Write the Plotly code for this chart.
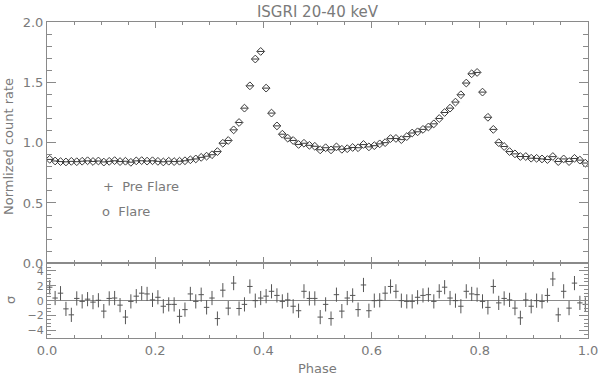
import plotly.graph_objects as go

# Phase bin centres
phase = [
    0.005, 0.015, 0.025, 0.035, 0.045, 0.055, 0.065, 0.075, 0.085, 0.095,
    0.105, 0.115, 0.125, 0.135, 0.145, 0.155, 0.165, 0.175, 0.185, 0.195,
    0.205, 0.215, 0.225, 0.235, 0.245, 0.255, 0.265, 0.275, 0.285, 0.295,
    0.305, 0.315, 0.325, 0.335, 0.345, 0.355, 0.365, 0.375, 0.385, 0.395,
    0.405, 0.415, 0.425, 0.435, 0.445, 0.455, 0.465, 0.475, 0.485, 0.495,
    0.505, 0.515, 0.525, 0.535, 0.545, 0.555, 0.565, 0.575, 0.585, 0.595,
    0.605, 0.615, 0.625, 0.635, 0.645, 0.655, 0.665, 0.675, 0.685, 0.695,
    0.705, 0.715, 0.725, 0.735, 0.745, 0.755, 0.765, 0.775, 0.785, 0.795,
    0.805, 0.815, 0.825, 0.835, 0.845, 0.855, 0.865, 0.875, 0.885, 0.895,
    0.905, 0.915, 0.925, 0.935, 0.945, 0.955, 0.965, 0.975, 0.985, 0.995,
]

# Normalized count rate, flare
flare = [
    0.862, 0.848, 0.843, 0.840, 0.845, 0.842, 0.846, 0.850, 0.844, 0.848,
    0.839, 0.845, 0.851, 0.843, 0.846, 0.837, 0.849, 0.851, 0.847, 0.850,
    0.845, 0.840, 0.846, 0.843, 0.846, 0.850, 0.858, 0.865, 0.878, 0.888,
    0.900, 0.926, 0.995, 1.018, 1.106, 1.167, 1.286, 1.471, 1.693, 1.756,
    1.452, 1.245, 1.139, 1.070, 1.037, 1.018, 0.985, 0.995, 0.978, 0.970,
    0.940, 0.958, 0.940, 0.965, 0.945, 0.950, 0.960, 0.958, 0.985, 0.965,
    0.975, 0.990, 1.000, 1.034, 1.035, 1.025, 1.050, 1.080, 1.090, 1.110,
    1.130, 1.156, 1.200, 1.250, 1.286, 1.336, 1.397, 1.494, 1.571, 1.582,
    1.419, 1.210, 1.110, 1.000, 0.968, 0.926, 0.907, 0.885, 0.885, 0.871,
    0.870, 0.865, 0.860, 0.885, 0.843, 0.865, 0.843, 0.870, 0.855, 0.830,
]

# Normalized count rate, pre flare (overlaps the flare profile)
pre_flare = [
    0.861, 0.848, 0.843, 0.841, 0.845, 0.842, 0.846, 0.849, 0.844, 0.848,
    0.840, 0.845, 0.850, 0.843, 0.846, 0.838, 0.849, 0.850, 0.847, 0.850,
    0.845, 0.841, 0.846, 0.843, 0.846, 0.850, 0.858, 0.865, 0.878, 0.888,
    0.900, 0.926, 0.995, 1.018, 1.106, 1.167, 1.286, 1.471, 1.693, 1.756,
    1.452, 1.245, 1.139, 1.070, 1.037, 1.018, 0.985, 0.995, 0.978, 0.970,
    0.941, 0.958, 0.941, 0.965, 0.945, 0.950, 0.960, 0.958, 0.984, 0.965,
    0.975, 0.990, 1.000, 1.033, 1.035, 1.025, 1.050, 1.080, 1.090, 1.110,
    1.130, 1.156, 1.200, 1.250, 1.286, 1.336, 1.397, 1.494, 1.571, 1.582,
    1.419, 1.210, 1.110, 1.000, 0.968, 0.926, 0.907, 0.885, 0.885, 0.871,
    0.870, 0.865, 0.860, 0.884, 0.844, 0.865, 0.844, 0.869, 0.855, 0.831,
]

# Residuals in sigma
resid = [
    1.8, 0.35, 1.0, -1.1, -1.9, 0.3, -0.1, 0.2, -0.2, 0.05,
    -1.4, 0.3, 0.35, -0.6, -2.2, -0.1, 0.6, 1.0, 0.9, 0.1,
    0.45, -0.75, -0.5, -0.5, -2.1, -1.2, 0.9, -0.1, 0.8, -0.9,
    0.35, -2.4, 1.4, -1.0, 2.35, -1.05, -0.5, 1.9, 0.0, 0.35,
    0.6, 1.25, 0.7, -0.1, 0.1, -0.75, -1.35, 1.25, 0.3, 0.3,
    -2.2, -0.5, -2.4, 0.8, -1.4, 0.35, 0.7, -1.2, 2.1, -1.35,
    0.0, 0.05, 1.0, 1.9, 1.25, 0.0, -0.1, -0.1, 0.45, 0.7,
    0.8, -0.1, 1.25, 1.8, 0.35, 0.0, -0.75, 1.25, 0.9, 0.8,
    -0.1, -0.9, 1.9, -0.3, 0.3, 0.1, -1.0, -2.3, 0.1, -0.75,
    0.0, -0.1, 0.7, 2.9, -1.9, 1.25, -1.0, 2.35, -0.3, -0.5,
]

title_text = "ISGRI 20-40 keV"
ytitle_top = "Normlized count rate"
ytitle_bottom = "σ"
xtitle = "Phase"
legend_labels = ["+  Pre Flare", "o  Flare"]

AX = "#8a8a8a"
TXT = "#7a7a7a"
MK = "#3a3a3a"
FONT = "DejaVu Sans"

W, H = 600, 375
L, R, T, B = 47, 12, 22, 37
ph = H - T - B
split = (338 - 263.3) / ph

fig = go.Figure()

fig.add_trace(go.Scatter(
    x=phase, y=flare, mode="markers", name="Flare",
    xaxis="x2", yaxis="y2",
    marker=dict(symbol="diamond-open", size=6, color=MK, line=dict(width=1, color=MK)),
    showlegend=False,
))
fig.add_trace(go.Scatter(
    x=phase, y=pre_flare, mode="markers", name="Pre Flare",
    xaxis="x2", yaxis="y2",
    marker=dict(symbol="line-ew-open", size=5, color=MK, line=dict(width=1, color=MK)),
    showlegend=False,
))
fig.add_trace(go.Scatter(
    x=phase, y=resid, mode="markers", name="residuals",
    xaxis="x", yaxis="y",
    marker=dict(size=2, color="rgba(0,0,0,0)"),
    error_x=dict(type="constant", value=0.005, width=0, thickness=1, color="#555"),
    error_y=dict(type="constant", value=0.95, width=0, thickness=1, color="#555"),
    showlegend=False,
))

common_x = dict(
    range=[0, 1], showgrid=False, zeroline=False, showline=True, linecolor=AX, linewidth=1,
    mirror="allticks", ticks="inside", ticklen=6, tickcolor=AX, dtick=0.2, tick0=0,
    minor=dict(dtick=0.05, ticks="inside", ticklen=3, tickcolor=AX), automargin=False,
)

fig.update_layout(
    width=W, height=H,
    margin=dict(l=L, r=R, t=T, b=B),
    paper_bgcolor="white", plot_bgcolor="white",
    font=dict(family=FONT, size=13, color=TXT),
    title=dict(text=title_text, x=(L + (W - L - R) / 2) / W, xanchor="center",
               y=1 - 12 / H, yanchor="middle", font=dict(size=15, color=TXT)),
    xaxis=dict(**common_x, domain=[0, 1], anchor="y", tickformat=".1f",
               tickfont=dict(size=13, color=TXT)),
    xaxis2=dict(**common_x, domain=[0, 1], anchor="y2", matches="x", showticklabels=False),
    yaxis=dict(domain=[0, split], anchor="x", range=[-5, 5], showgrid=False,
               zeroline=True, zerolinecolor=AX, zerolinewidth=1,
               showline=True, linecolor=AX, mirror="allticks", ticks="inside",
               ticklen=9, tickcolor=AX, tickvals=[-4, -2, 0, 2, 4],
               minor=dict(dtick=0.5, ticks="inside", ticklen=4, tickcolor=AX),
               tickfont=dict(size=11, color=TXT), automargin=False),
    yaxis2=dict(domain=[split, 1], anchor="x2", range=[0, 2], showgrid=False,
                zeroline=False, showline=True, linecolor=AX, mirror="allticks",
                ticks="inside", ticklen=9, tickcolor=AX, dtick=0.5, tick0=0,
                tickformat=".1f",
                minor=dict(dtick=0.1, ticks="inside", ticklen=5, tickcolor=AX),
                tickfont=dict(size=13, color=TXT), automargin=False),
)

annotations = [
    dict(text=ytitle_top, xref="paper", yref="paper", x=(8 - L) / (W - L - R),
         y=(338 - 147) / ph, textangle=-90, showarrow=False,
         font=dict(size=13, color=TXT), xanchor="center", yanchor="middle"),
    dict(text=ytitle_bottom, xref="paper", yref="paper", x=(10 - L) / (W - L - R),
         y=(338 - 300) / ph, textangle=-90, showarrow=False,
         font=dict(size=13, color=TXT), xanchor="center", yanchor="middle"),
    dict(text=xtitle, xref="paper", yref="paper", x=0.5, y=(338 - 368) / ph,
         showarrow=False, font=dict(size=13, color=TXT), xanchor="center", yanchor="middle"),
    dict(text=legend_labels[0], xref="x2", yref="y2", x=0.1, y=0.636, showarrow=False,
         font=dict(size=13, color=TXT), xanchor="left", yanchor="middle"),
    dict(text=legend_labels[1], xref="x2", yref="y2", x=0.098, y=0.428, showarrow=False,
         font=dict(size=13, color=TXT), xanchor="left", yanchor="middle"),
]
fig.update_layout(annotations=annotations)

fig.write_html(
    "out.html",
    config={"displayModeBar": False},
    post_script="document.body.style.margin='0px';document.body.style.overflow='hidden';",
)
